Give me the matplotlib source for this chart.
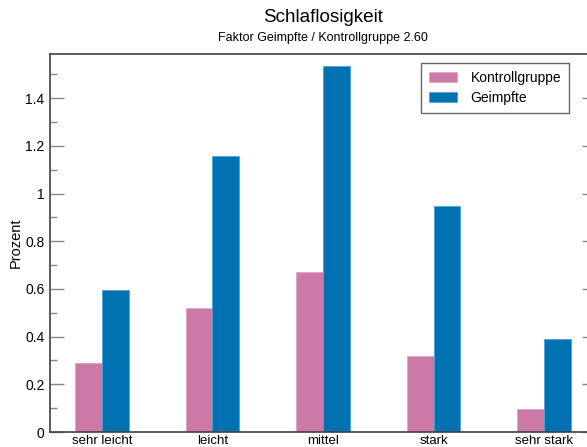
import matplotlib
matplotlib.use("Agg")
import matplotlib.pyplot as plt
import numpy as np
from matplotlib.ticker import MultipleLocator, FuncFormatter

plt.rcParams['font.family'] = ['Liberation Sans', 'DejaVu Sans']

categories = ["sehr leicht", "leicht", "mittel", "stark", "sehr stark"]
kontrollgruppe = [0.288, 0.520, 0.671, 0.319, 0.095]
geimpfte = [0.595, 1.157, 1.537, 0.948, 0.390]
series_names = ["Kontrollgruppe", "Geimpfte"]
colors = ["#cc79a7", "#0072b2"]
edge_colors = ["#e0a6c6", "#4aa3d8"]

fig = plt.figure(figsize=(5.87, 4.47), dpi=100)
ax = fig.add_axes([50/587, 15/447, 546/587, 377.7/447])

x = np.arange(len(categories))
w = 0.244
ax.bar(x - w/2, kontrollgruppe, w, color=colors[0], edgecolor=edge_colors[0],
       linewidth=0.6, label=series_names[0])
ax.bar(x + w/2, geimpfte, w, color=colors[1], edgecolor=edge_colors[1],
       linewidth=0.6, label=series_names[1])

ax.set_xlim(-0.47, 4.47)
ax.set_ylim(0, 1.584)
ax.set_xticks(x)
ax.set_xticklabels(categories, fontsize=9.5)
ax.tick_params(axis='x', length=0, pad=2)

ax.yaxis.set_major_locator(MultipleLocator(0.2))
ax.yaxis.set_minor_locator(MultipleLocator(0.1))
ax.yaxis.set_major_formatter(FuncFormatter(lambda v, p: f"{v:g}"))
ax.tick_params(axis='y', which='major', direction='in', length=10, width=1,
               color='#888888', labelsize=10, right=True, pad=4)
ax.tick_params(axis='y', which='minor', direction='in', length=5, width=1,
               color='#888888', right=True)

for side in ['left', 'top', 'bottom', 'right']:
    ax.spines[side].set_color('#404040')
    ax.spines[side].set_linewidth(1.2)

ax.set_ylabel("Prozent", fontsize=10.5)
ax.yaxis.set_label_coords(-0.049, 0.5)

fig.text(323/587, 1 - 17/447, "Schlaflosigkeit", ha='center', va='center', fontsize=13.6)
fig.text(323/587, 1 - 38/447, "Faktor Geimpfte / Kontrollgruppe 2.60", ha='center',
         va='center', fontsize=9.0)

leg = ax.legend(loc='upper right', bbox_to_anchor=(569/587, 1 - 63/447),
                bbox_transform=fig.transFigure, fontsize=10, frameon=True,
                fancybox=False, handlelength=2.0, handleheight=0.7,
                handletextpad=1.0, borderpad=0.55, labelspacing=0.45,
                borderaxespad=0)
leg.get_frame().set_edgecolor('#404040')
leg.get_frame().set_linewidth(1.0)

fig.savefig("out.png", dpi=100)
